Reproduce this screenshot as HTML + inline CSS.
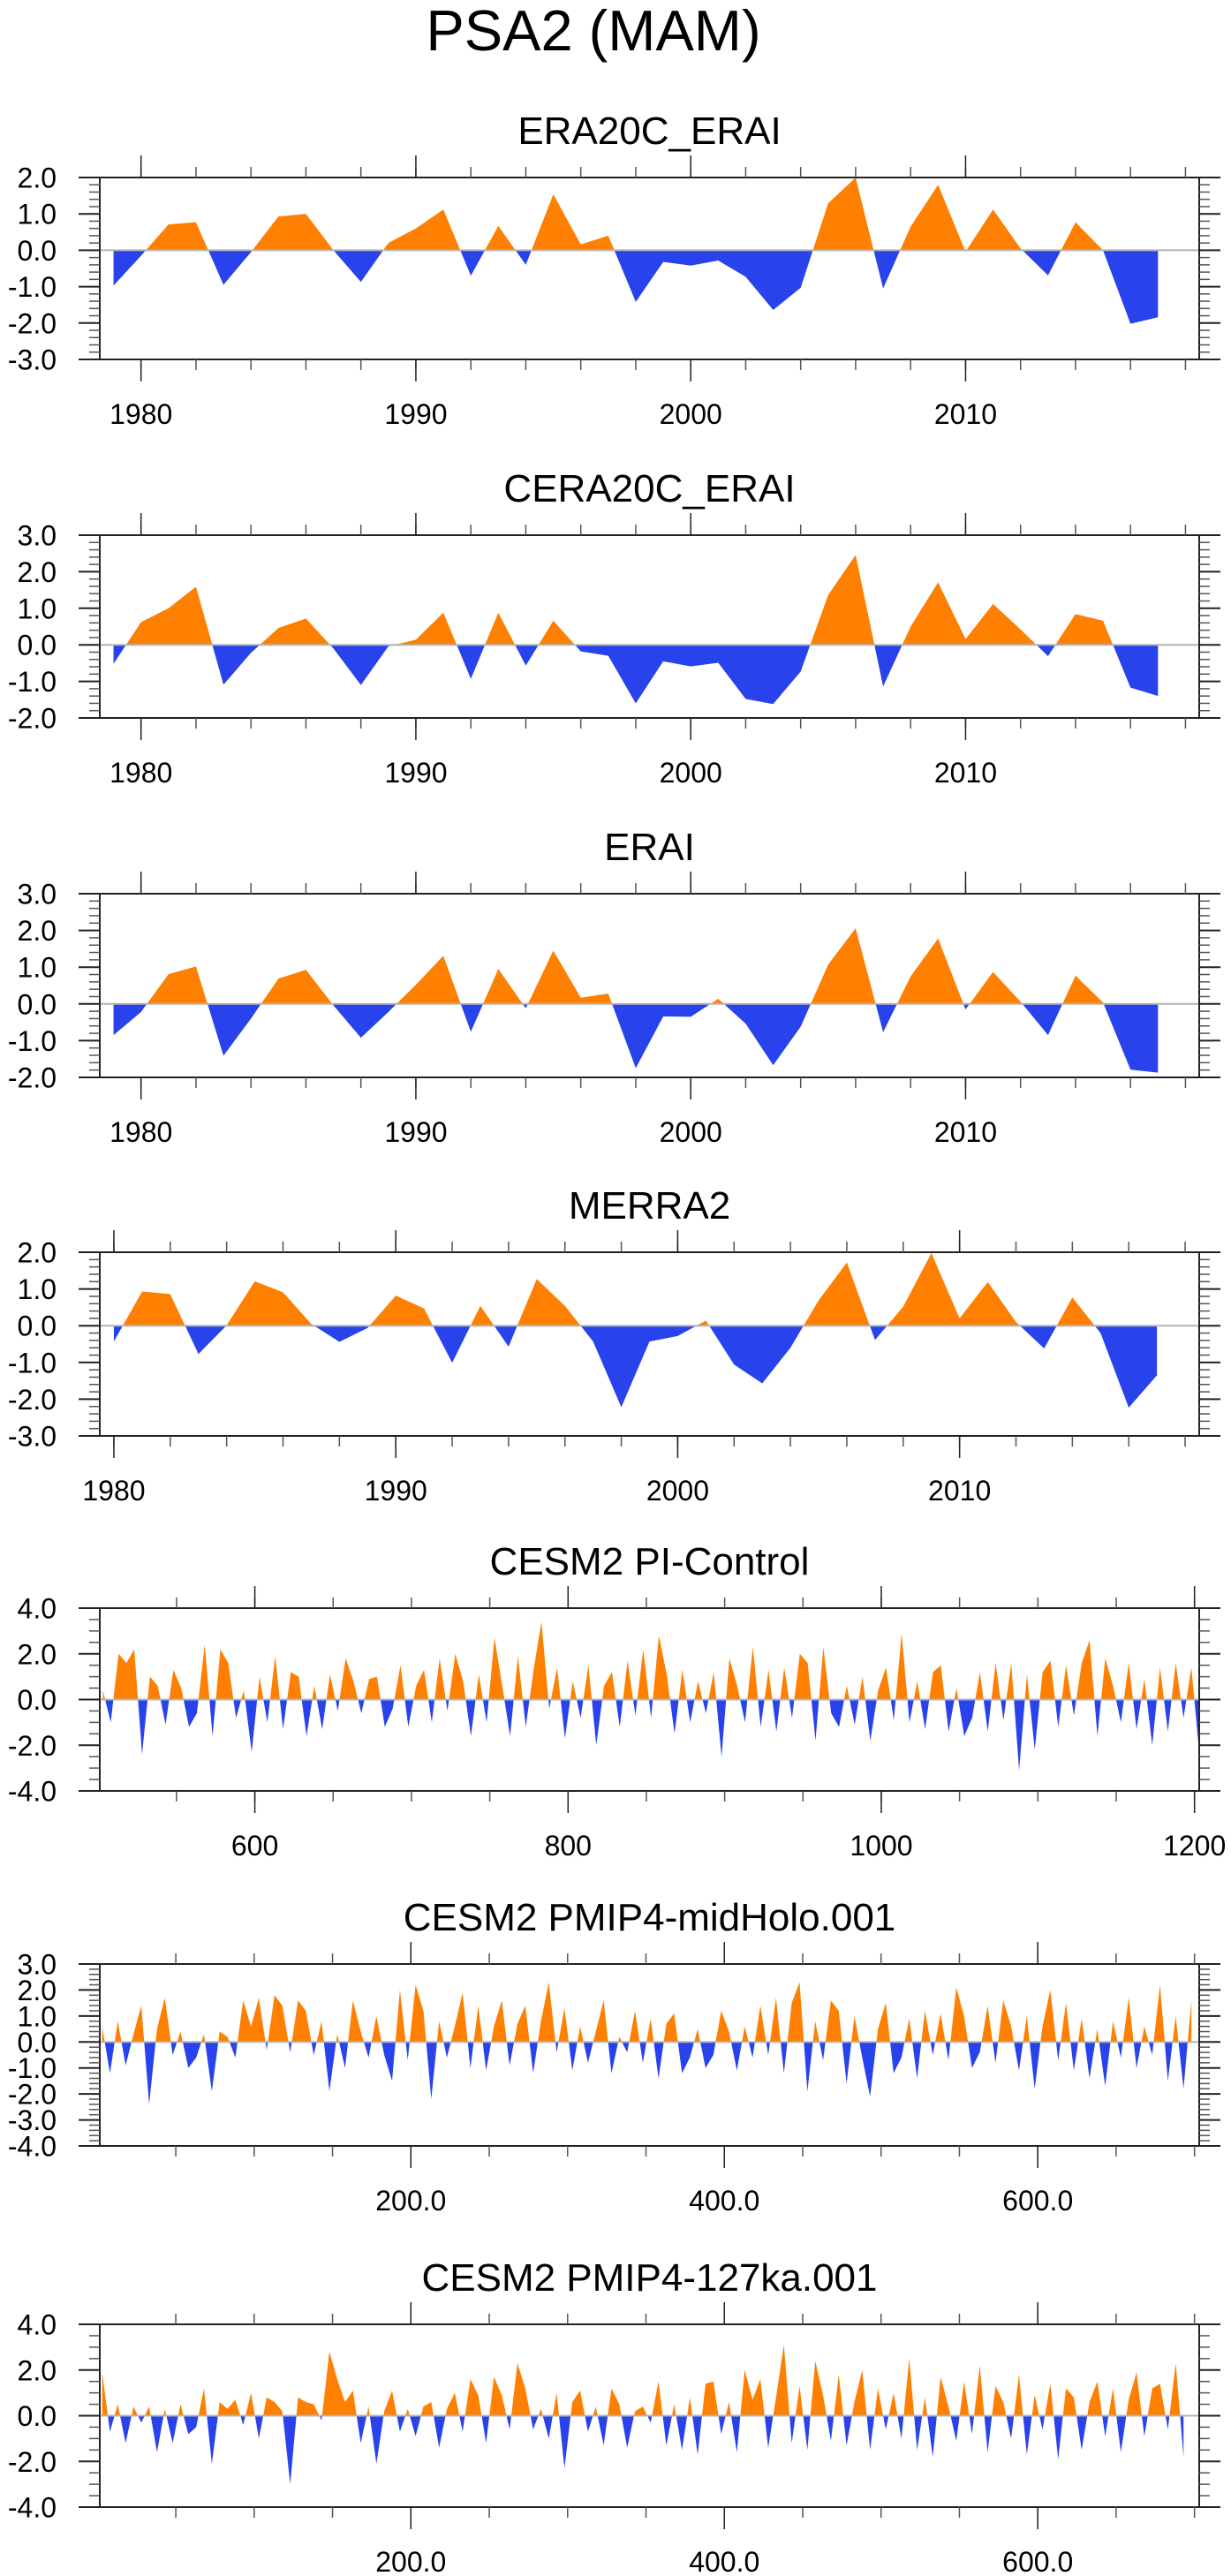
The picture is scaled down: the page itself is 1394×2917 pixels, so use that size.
<!DOCTYPE html>
<html><head><meta charset="utf-8"><title>PSA2 (MAM)</title>
<style>
html,body{margin:0;padding:0;background:#fff;}
svg{display:block;font-family:"Liberation Sans",Arial,sans-serif;}
</style></head>
<body>
<svg id="chart" xmlns="http://www.w3.org/2000/svg" width="1394" height="2917" viewBox="0 0 1394 2917">
<rect x="0" y="0" width="1394" height="2917" fill="#fff"/>
<text x="672" y="57" font-size="65" text-anchor="middle" fill="#000">PSA2 (MAM)</text>
</svg>
<script>
// ---- data ----
const yearsA = [1979,1980,1981,1982,1983,1984,1985,1986,1987,1988,1989,1990,1991,1992,1993,1994,1995,1996,1997,1998,1999,2000,2001,2002,2003,2004,2005,2006,2007,2008,2009,2010,2011,2012,2013,2014,2015,2016,2017];
const era20cErai = [-0.97,-0.15,0.71,0.77,-0.95,-0.05,0.93,1.0,0.0,-0.87,0.2,0.6,1.12,-0.7,0.67,-0.4,1.54,0.16,0.4,-1.42,-0.32,-0.42,-0.28,-0.73,-1.64,-1.03,1.29,2.0,-1.05,0.65,1.8,-0.04,1.12,0.05,-0.69,0.77,0.0,-2.02,-1.84];
const cera20cErai = [-0.52,0.62,1.0,1.59,-1.09,-0.22,0.46,0.72,-0.1,-1.1,-0.04,0.14,0.88,-0.93,0.88,-0.57,0.66,-0.18,-0.3,-1.6,-0.45,-0.59,-0.49,-1.48,-1.62,-0.73,1.36,2.46,-1.14,0.5,1.71,0.16,1.12,0.42,-0.31,0.84,0.66,-1.17,-1.4];
const erai = [-0.85,-0.22,0.81,1.02,-1.41,-0.4,0.69,0.93,-0.04,-0.92,-0.22,0.52,1.31,-0.76,0.95,-0.12,1.45,0.17,0.28,-1.75,-0.34,-0.35,0.14,-0.54,-1.67,-0.62,1.07,2.06,-0.77,0.75,1.78,-0.15,0.87,0.06,-0.85,0.77,0.04,-1.79,-1.87];
const yearsB = [1980,1981,1982,1983,1984,1985,1986,1987,1988,1989,1990,1991,1992,1993,1994,1995,1996,1997,1998,1999,2000,2001,2002,2003,2004,2005,2006,2007,2008,2009,2010,2011,2012,2013,2014,2015,2016,2017];
const merra2 = [-0.43,0.93,0.86,-0.77,0.01,1.21,0.91,0.05,-0.44,-0.06,0.82,0.47,-1.01,0.54,-0.57,1.27,0.54,-0.43,-2.22,-0.43,-0.28,0.14,-1.06,-1.57,-0.6,0.69,1.72,-0.39,0.52,1.98,0.2,1.19,0.1,-0.62,0.77,-0.2,-2.23,-1.35];
const piStart = 503, piStep = 5;
const piControl = [0.4,-1.0,2.0,1.6,2.2,-2.4,1.0,0.6,-1.1,1.3,0.5,-1.2,-0.6,2.4,-1.6,2.2,1.6,-0.8,0.4,-2.3,1.0,-1.0,1.9,-1.3,1.2,1.0,-1.6,0.6,-1.3,1.1,-0.5,1.8,0.8,-0.6,0.9,1.0,-1.2,-0.4,1.5,-1.2,0.6,1.3,-1.0,1.8,-0.5,2.0,0.8,-1.6,1.1,-1.0,2.7,0.6,-1.6,1.9,-1.2,1.3,3.4,-0.4,1.4,-1.7,0.8,-0.8,1.5,-2.0,0.6,1.2,-1.2,1.7,-0.7,2.2,-0.8,2.8,1.1,-1.5,1.3,-1.0,0.8,-0.6,1.2,-2.5,1.8,0.6,-1.0,2.3,-1.2,1.3,-1.4,1.4,-0.8,2.0,1.6,-1.8,2.3,-0.6,-1.2,0.6,-1.1,1.0,-1.8,0.4,1.4,-0.9,2.9,-1.0,0.8,-1.3,1.2,1.5,-1.4,0.5,-1.6,-0.8,1.2,-1.4,1.6,-0.9,1.6,-3.1,1.1,-2.2,1.2,1.7,-1.2,1.5,-0.7,1.6,2.6,-1.6,1.8,0.6,-1.0,1.6,-1.3,0.9,-2.0,1.4,-1.4,1.6,-0.8,1.4,-2.3,1.0,0.4];
const holoStart = 3, holoStep = 5;
const midHolo = [0.6,-1.2,0.8,-0.9,0.3,1.4,-2.4,0.5,1.7,-0.5,0.4,-1.0,-0.6,0.3,-1.9,0.4,0.2,-0.6,1.6,0.6,1.7,-0.3,1.8,1.4,-0.4,1.6,1.2,-0.5,0.8,-1.9,0.3,-1.0,1.6,0.4,-0.6,1.0,-0.5,-1.5,2.0,-0.7,2.2,1.2,-2.2,0.8,-0.6,0.6,1.9,-1.0,1.4,-1.1,0.6,1.6,-0.9,0.7,1.4,-1.2,0.8,2.3,-0.4,1.3,-1.1,0.6,-0.8,0.4,1.6,-1.2,0.2,-0.4,1.2,-0.8,0.9,-1.4,0.7,1.1,-1.2,-0.6,0.5,-1.0,-0.5,1.2,0.4,-1.1,0.6,-0.6,1.4,-0.5,1.7,-1.2,1.5,2.3,-1.9,0.8,-0.7,1.6,1.2,-1.6,1.0,-0.6,-2.1,0.5,1.5,-1.2,-0.6,0.9,-1.4,1.2,-0.5,1.1,-0.7,2.1,1.0,-1.0,-0.4,1.4,-0.8,1.6,0.6,-1.1,1.0,-1.8,0.6,2.0,-0.7,1.5,-1.1,0.9,-1.4,0.5,-1.7,0.8,-0.6,1.7,-1.0,0.6,-0.5,2.2,-1.5,1.0,-1.8,1.6];
const kaStart = 3, kaStep = 5;
const ka127 = [1.9,-0.7,0.5,-1.2,0.4,-0.3,0.4,-1.6,0.3,-1.2,0.5,-0.8,-0.5,1.2,-2.1,0.6,0.3,0.7,-0.4,1.0,-1.0,0.8,0.6,0.2,-3.0,0.8,0.6,0.5,-0.2,2.8,1.6,0.6,1.1,-1.2,0.4,-2.1,0.2,1.1,-0.7,0.3,-0.9,0.4,0.6,-1.4,0.3,1.0,-0.7,1.6,0.9,-1.2,1.7,0.9,-0.6,2.3,1.2,-0.6,0.3,-1.0,1.0,-2.3,0.6,1.1,-0.7,0.4,-1.3,1.2,0.5,-1.4,0.2,0.4,-0.3,1.5,-1.3,0.5,-1.5,0.8,-1.7,1.4,1.5,-0.8,0.6,-1.6,2.0,0.7,1.6,-1.4,0.8,3.1,-1.2,1.3,-1.5,2.4,0.9,-1.1,1.8,-1.3,0.6,2.0,-1.5,1.2,-0.6,1.0,-1.0,2.5,-1.5,0.8,-1.8,1.7,0.4,-1.1,1.5,-0.8,2.2,-1.6,1.3,0.6,-1.0,1.8,-1.7,0.9,-0.6,1.4,-1.9,1.2,0.8,-1.5,0.6,1.5,-0.9,1.2,-1.6,0.7,1.9,-0.9,1.2,1.4,-0.6,2.3,-1.8];
const yearTickLabels = ["1980","1990","2000","2010"];
const piTickLabels = ["600","800","1000","1200"];
const holoTickLabels = ["200.0","400.0","600.0"];

const NS = "http://www.w3.org/2000/svg";
const svg = document.getElementById('chart');
function mk(tag, attrs, parent){
  const e = document.createElementNS(NS, tag);
  for (const k in attrs) e.setAttribute(k, attrs[k]);
  (parent||svg).appendChild(e);
  return e;
}
function idxX(start, step, n){ const a=[]; for(let i=0;i<n;i++) a.push(start+i*step); return a; }

const L=113, R=1358;
const panels = [
 {key:'era20c-erai', title:'ERA20C_ERAI', top:201, bottom:407, xmin:1978.5, xmax:2018.5, ymin:-3, ymax:2, ystep:1, yminor:0.2, xs:yearsA, ys:era20cErai, xmaj:[1980,1990,2000,2010], xlab:yearTickLabels, xminor:2, xminStart:1980},
 {key:'cera20c-erai', title:'CERA20C_ERAI', top:606, bottom:813, xmin:1978.5, xmax:2018.5, ymin:-2, ymax:3, ystep:1, yminor:0.2, xs:yearsA, ys:cera20cErai, xmaj:[1980,1990,2000,2010], xlab:yearTickLabels, xminor:2, xminStart:1980},
 {key:'erai', title:'ERAI', top:1012, bottom:1220, xmin:1978.5, xmax:2018.5, ymin:-2, ymax:3, ystep:1, yminor:0.2, xs:yearsA, ys:erai, xmaj:[1980,1990,2000,2010], xlab:yearTickLabels, xminor:2, xminStart:1980},
 {key:'merra2', title:'MERRA2', top:1418, bottom:1626, xmin:1979.5, xmax:2018.5, ymin:-3, ymax:2, ystep:1, yminor:0.2, xs:yearsB, ys:merra2, xmaj:[1980,1990,2000,2010], xlab:yearTickLabels, xminor:2, xminStart:1980},
 {key:'cesm2-pi-control', title:'CESM2 PI-Control', top:1821, bottom:2028, xmin:501, xmax:1203, ymin:-4, ymax:4, ystep:2, yminor:0.5, xs:idxX(piStart,piStep,piControl.length), ys:piControl, xmaj:[600,800,1000,1200], xlab:piTickLabels, xminor:50, xminStart:550},
 {key:'cesm2-midholo', title:'CESM2 PMIP4-midHolo.001', top:2224, bottom:2430, xmin:1.5, xmax:703, ymin:-4, ymax:3, ystep:1, yminor:0.2, xs:idxX(holoStart,holoStep,midHolo.length), ys:midHolo, xmaj:[200,400,600], xlab:holoTickLabels, xminor:50, xminStart:50},
 {key:'cesm2-127ka', title:'CESM2 PMIP4-127ka.001', top:2632, bottom:2839, xmin:1.5, xmax:703, ymin:-4, ymax:4, ystep:2, yminor:0.5, xs:idxX(kaStart,kaStep,ka127.length), ys:ka127, xmaj:[200,400,600], xlab:holoTickLabels, xminor:50, xminStart:50}
];

panels.forEach((p, pi) => {
  const sx = v => L + (v - p.xmin)/(p.xmax - p.xmin)*(R - L);
  const sy = v => p.bottom - (v - p.ymin)/(p.ymax - p.ymin)*(p.bottom - p.top);
  const g = mk('g', {});
  
  

  const t = mk('text', {x:(L+R)/2, y:p.top-38, 'font-size':44, 'text-anchor':'middle', fill:'#000'}, g);
  
  
  t.textContent = p.title;

  const y0 = sy(0);
  const defs = mk('defs', {}, g);
  const cpU = mk('clipPath', {id:'cu'+pi}, defs);
  mk('rect', {x:L, y:p.top, width:R-L, height:y0-p.top}, cpU);
  const cpD = mk('clipPath', {id:'cd'+pi}, defs);
  mk('rect', {x:L, y:y0, width:R-L, height:p.bottom-y0}, cpD);

  let d = 'M' + sx(p.xs[0]).toFixed(2) + ',' + y0.toFixed(2);
  for (let i=0;i<p.ys.length;i++) d += 'L' + sx(p.xs[i]).toFixed(2) + ',' + sy(p.ys[i]).toFixed(2);
  d += 'L' + sx(p.xs[p.xs.length-1]).toFixed(2) + ',' + y0.toFixed(2) + 'Z';
  const pos = mk('path', {d:d, fill:'#ff8000', 'clip-path':'url(#cu'+pi+')'}, g);
  
  
  const neg = mk('path', {d:d, fill:'#2842ec', 'clip-path':'url(#cd'+pi+')'}, g);
  
  

  const zl = mk('line', {x1:L, x2:R, y1:y0, y2:y0, stroke:'#b4b4b4', 'stroke-width':2}, g);
  
  

  const fr = mk('rect', {x:L, y:p.top, width:R-L, height:p.bottom-p.top, fill:'none', stroke:'#222', 'stroke-width':2}, g);
  
  

  // y ticks
  const nMinor = Math.round((p.ymax - p.ymin)/p.yminor);
  for (let i=0;i<=nMinor;i++){
    const v = p.ymin + i*p.yminor;
    const y = sy(v);
    mk('line', {x1:L-12, x2:L, y1:y, y2:y, stroke:'#555', 'stroke-width':1.5}, g);
    mk('line', {x1:R, x2:R+12, y1:y, y2:y, stroke:'#555', 'stroke-width':1.5}, g);
  }
  const nMaj = Math.round((p.ymax - p.ymin)/p.ystep);
  for (let i=0;i<=nMaj;i++){
    const v = p.ymin + i*p.ystep;
    const y = sy(v);
    mk('line', {x1:L-24, x2:L, y1:y, y2:y, stroke:'#222', 'stroke-width':2}, g);
    mk('line', {x1:R, x2:R+24, y1:y, y2:y, stroke:'#222', 'stroke-width':2}, g);
    const lb = mk('text', {x:64, y:y+11.5, 'font-size':32, 'text-anchor':'end', fill:'#000'}, g);
    
    
    lb.textContent = v.toFixed(1);
  }
  // x ticks
  for (let v=p.xminStart; v<=p.xmax+0.01; v+=p.xminor){
    if (v < p.xmin) continue;
    const x = sx(v);
    mk('line', {x1:x, x2:x, y1:p.top-12, y2:p.top, stroke:'#555', 'stroke-width':1.5}, g);
    mk('line', {x1:x, x2:x, y1:p.bottom, y2:p.bottom+12, stroke:'#555', 'stroke-width':1.5}, g);
  }
  p.xmaj.forEach((v, i) => {
    const x = sx(v);
    mk('line', {x1:x, x2:x, y1:p.top-25, y2:p.top, stroke:'#222', 'stroke-width':1.5}, g);
    mk('line', {x1:x, x2:x, y1:p.bottom, y2:p.bottom+25, stroke:'#222', 'stroke-width':1.5}, g);
    const lb = mk('text', {x:x, y:p.bottom+73, 'font-size':32, 'text-anchor':'middle', fill:'#000'}, g);
    
    
    lb.textContent = p.xlab[i];
  });
});
</script>
</body></html>
